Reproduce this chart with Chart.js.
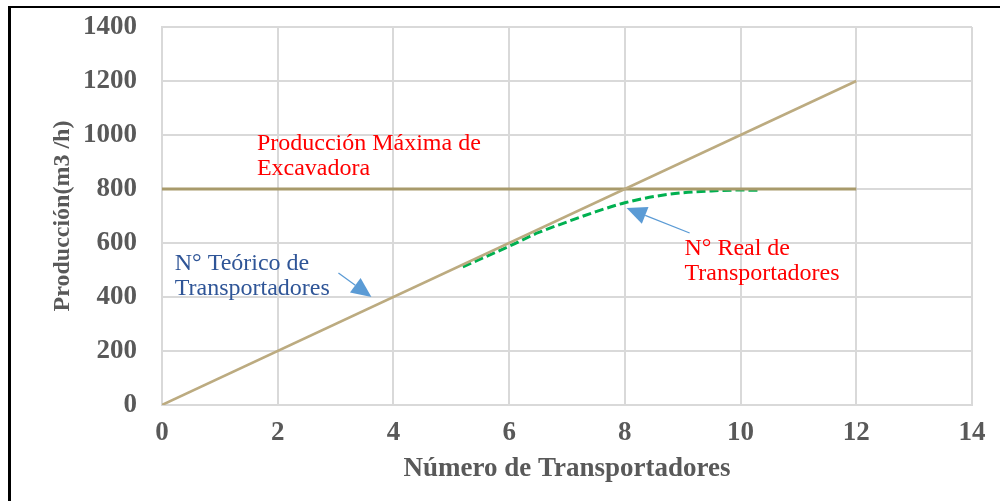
<!DOCTYPE html>
<html>
<head>
<meta charset="utf-8">
<script src="https://cdn.jsdelivr.net/npm/chart.js@4/dist/chart.umd.min.js"></script>
<style>
  html, body { margin: 0; padding: 0; background: #fff; }
  #wrap { position: relative; width: 1000px; height: 501px; }
  #frame { position: absolute; left: 8px; top: 6px; right: -10px; bottom: -10px;
           border-top: 2px solid #000; border-left: 3px solid #000; pointer-events: none; }
  canvas { display: block; }
</style>
</head>
<body>
<div id="wrap">
  <canvas id="c" width="1000" height="501"></canvas>
  <div id="frame"></div>
</div>
<script>
// ---- data ----
const xTicks = [0, 2, 4, 6, 8, 10, 12, 14];
const yTicks = [0, 200, 400, 600, 800, 1000, 1200, 1400];

const theoreticalX = [0, 12];
const theoreticalY = [0, 1200];

const maxProdX = [0, 12];
const maxProdY = [800, 800];

const realX = [5.2, 6, 6.5, 7, 7.5, 8, 8.5, 9, 9.5, 10, 10.3];
const realY = [512, 588, 638, 678, 716, 749, 772, 786, 793, 796, 795];

const xTitle = 'Número de Transportadores';
const yTitle = 'Producción(m3 /h)';

// annotations (data coordinates)
const noteMax = { lines: ['Producción Máxima de', 'Excavadora'], x: 1.64, y: 944, color: '#FF0000' };
const noteTheo = { lines: ['N° Teórico de', 'Transportadores'], x: 0.22, y: 500, color: '#2F5597' };
const noteReal = { lines: ['N° Real de', 'Transportadores'], x: 9.03, y: 556, color: '#FF0000' };
const arrowTheo = { from: [3.05, 489], to: [3.62, 400] };
const arrowReal = { from: [9.12, 637], to: [8.03, 730] };

const toPts = (xs, ys) => xs.map((x, i) => ({ x: x, y: ys[i] }));

const annotPlugin = {
  id: 'annot',
  afterDatasetsDraw(chart) {
    const ctx = chart.ctx;
    const xs = chart.scales.x, ys = chart.scales.y;
    ctx.save();
    ctx.font = '24px "Liberation Serif", "Times New Roman", serif';
    ctx.textBaseline = 'alphabetic';
    ctx.textAlign = 'left';
    [noteMax, noteTheo, noteReal].forEach(n => {
      ctx.fillStyle = n.color;
      const px = xs.getPixelForValue(n.x), py = ys.getPixelForValue(n.y);
      n.lines.forEach((l, i) => ctx.fillText(l, px, py + i * 25));
    });
    [arrowTheo, arrowReal].forEach(a => {
      const x1 = xs.getPixelForValue(a.from[0]), y1 = ys.getPixelForValue(a.from[1]);
      const x2 = xs.getPixelForValue(a.to[0]), y2 = ys.getPixelForValue(a.to[1]);
      const ang = Math.atan2(y2 - y1, x2 - x1);
      const hl = 20, hw = 9;
      const bx = x2 - hl * Math.cos(ang), by = y2 - hl * Math.sin(ang);
      ctx.strokeStyle = '#5B9BD5';
      ctx.fillStyle = '#5B9BD5';
      ctx.lineWidth = 1.3;
      ctx.beginPath(); ctx.moveTo(x1, y1); ctx.lineTo(bx, by); ctx.stroke();
      ctx.beginPath();
      ctx.moveTo(x2, y2);
      ctx.lineTo(bx + hw * Math.sin(ang), by - hw * Math.cos(ang));
      ctx.lineTo(bx - hw * Math.sin(ang), by + hw * Math.cos(ang));
      ctx.closePath(); ctx.fill();
    });
    ctx.restore();
  }
};

const tickFont = { family: '"Liberation Serif", "Times New Roman", serif', size: 27, weight: 'bold' };
const xTitleFont = { family: '"Liberation Serif", "Times New Roman", serif', size: 27, weight: 'bold' };
const yTitleFont = { family: '"Liberation Serif", "Times New Roman", serif', size: 24, weight: 'bold' };

new Chart(document.getElementById('c'), {
  type: 'scatter',
  data: {
    datasets: [
      { label: 'Teórico', data: toPts(theoreticalX, theoreticalY), showLine: true,
        borderColor: '#BCAB80', borderWidth: 2.5, pointRadius: 0, tension: 0 },
      { label: 'Máxima', data: toPts(maxProdX, maxProdY), showLine: true,
        borderColor: '#A89A6B', borderWidth: 3, pointRadius: 0, tension: 0 },
      { label: 'Real', data: toPts(realX, realY), showLine: true,
        borderColor: '#00B050', borderWidth: 3, borderDash: [9, 4], pointRadius: 0,
        cubicInterpolationMode: 'monotone' }
    ]
  },
  options: {
    responsive: false,
    animation: false,
    devicePixelRatio: 1,
    layout: { padding: { left: 0, right: 28, top: 27, bottom: 16 } },
    plugins: { legend: { display: false }, tooltip: { enabled: false } },
    scales: {
      x: {
        type: 'linear', min: 0, max: 14,
        afterBuildTicks: s => { s.ticks = xTicks.map(v => ({ value: v })); },
        afterFit: s => { s.height = 501 - 405 - 16; },
        grid: { color: '#D9D9D9', lineWidth: 2, drawTicks: false },
        border: { color: '#D9D9D9', width: 2 },
        ticks: { color: '#595959', font: tickFont, padding: 12, maxRotation: 0, callback: v => String(v) },
        title: { display: true, text: xTitle, color: '#595959', font: xTitleFont, padding: { top: 0, bottom: 0 } }
      },
      y: {
        type: 'linear', min: 0, max: 1400,
        afterBuildTicks: s => { s.ticks = yTicks.map(v => ({ value: v })); },
        afterFit: s => { s.width = 162; s.paddingTop = 0; s.paddingBottom = 0; },
        grid: { color: '#D9D9D9', lineWidth: 2, drawTicks: false },
        border: { color: '#D9D9D9', width: 2 },
        ticks: { color: '#595959', font: tickFont, padding: 25, callback: v => String(v) },
        title: { display: true, text: yTitle, color: '#595959', font: yTitleFont, padding: { top: 48, bottom: 0 } }
      }
    }
  },
  plugins: [annotPlugin]
});
</script>
</body>
</html>
